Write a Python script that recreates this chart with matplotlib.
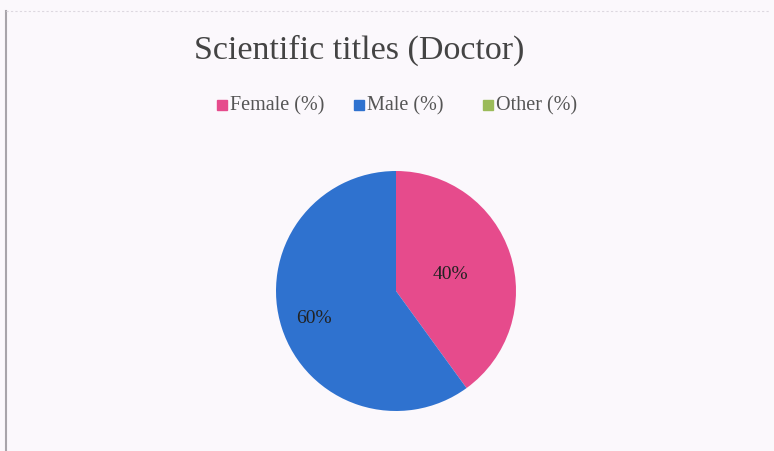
import numpy as np
import matplotlib.pyplot as plt

title = "Scientific titles (Doctor)"
labels = ["Female (%)", "Male (%)", "Other (%)"]
values = [40, 60, 0]
colors = ["#E64B8C", "#2F72CF", "#9BBB59"]

plt.rcParams['font.family'] = ['Liberation Serif', 'DejaVu Serif']

W, H = 774, 452
fig = plt.figure(figsize=(W / 100, H / 100), dpi=100, facecolor="#FBF8FC")

# one axes in pixel units (y measured from bottom)
ax = fig.add_axes([0, 0, 1, 1])
ax.set_facecolor("none")

cx, cy, r = 396, H - 292, 120
wedges, _ = ax.pie(values[:2], colors=colors[:2], startangle=90, counterclock=False,
                   center=(cx, cy), radius=r, frame=True,
                   wedgeprops=dict(linewidth=0))
ax.set_xlim(0, W)
ax.set_ylim(0, H)
ax.set_aspect("equal")
ax.axis("off")

# percentage labels
dists = [0.48, 0.72]
for w, v, d in zip(wedges, values, dists):
    ang = np.deg2rad((w.theta1 + w.theta2) / 2)
    ax.text(cx + d * r * np.cos(ang), cy + d * r * np.sin(ang), f"{v}%",
            ha="center", va="center", fontsize=14, color="#222222")

# title
ax.text(359, H - 50, title, ha="center", va="center", fontsize=24.5, color="#444444")

# legend (drawn by hand to match spacing)
leg_x = [222, 359, 488]
leg_y = H - 106
for x, lab, c in zip(leg_x, labels, colors):
    ax.plot(x, leg_y, marker="s", markersize=6.5, color=c, linestyle="none")
    ax.text(x + 8, leg_y, lab, ha="left", va="center", fontsize=14.5, color="#555555")

# scan border lines
ax.plot([6, 6], [0, H - 12], color="#A8A4AA", linewidth=1.5)
ax.plot([6, 770], [H - 12, H - 12], color="#DDD8E0", linewidth=0.8, linestyle=(0, (2, 2)))

fig.savefig("out.png", dpi=100, facecolor=fig.get_facecolor())
